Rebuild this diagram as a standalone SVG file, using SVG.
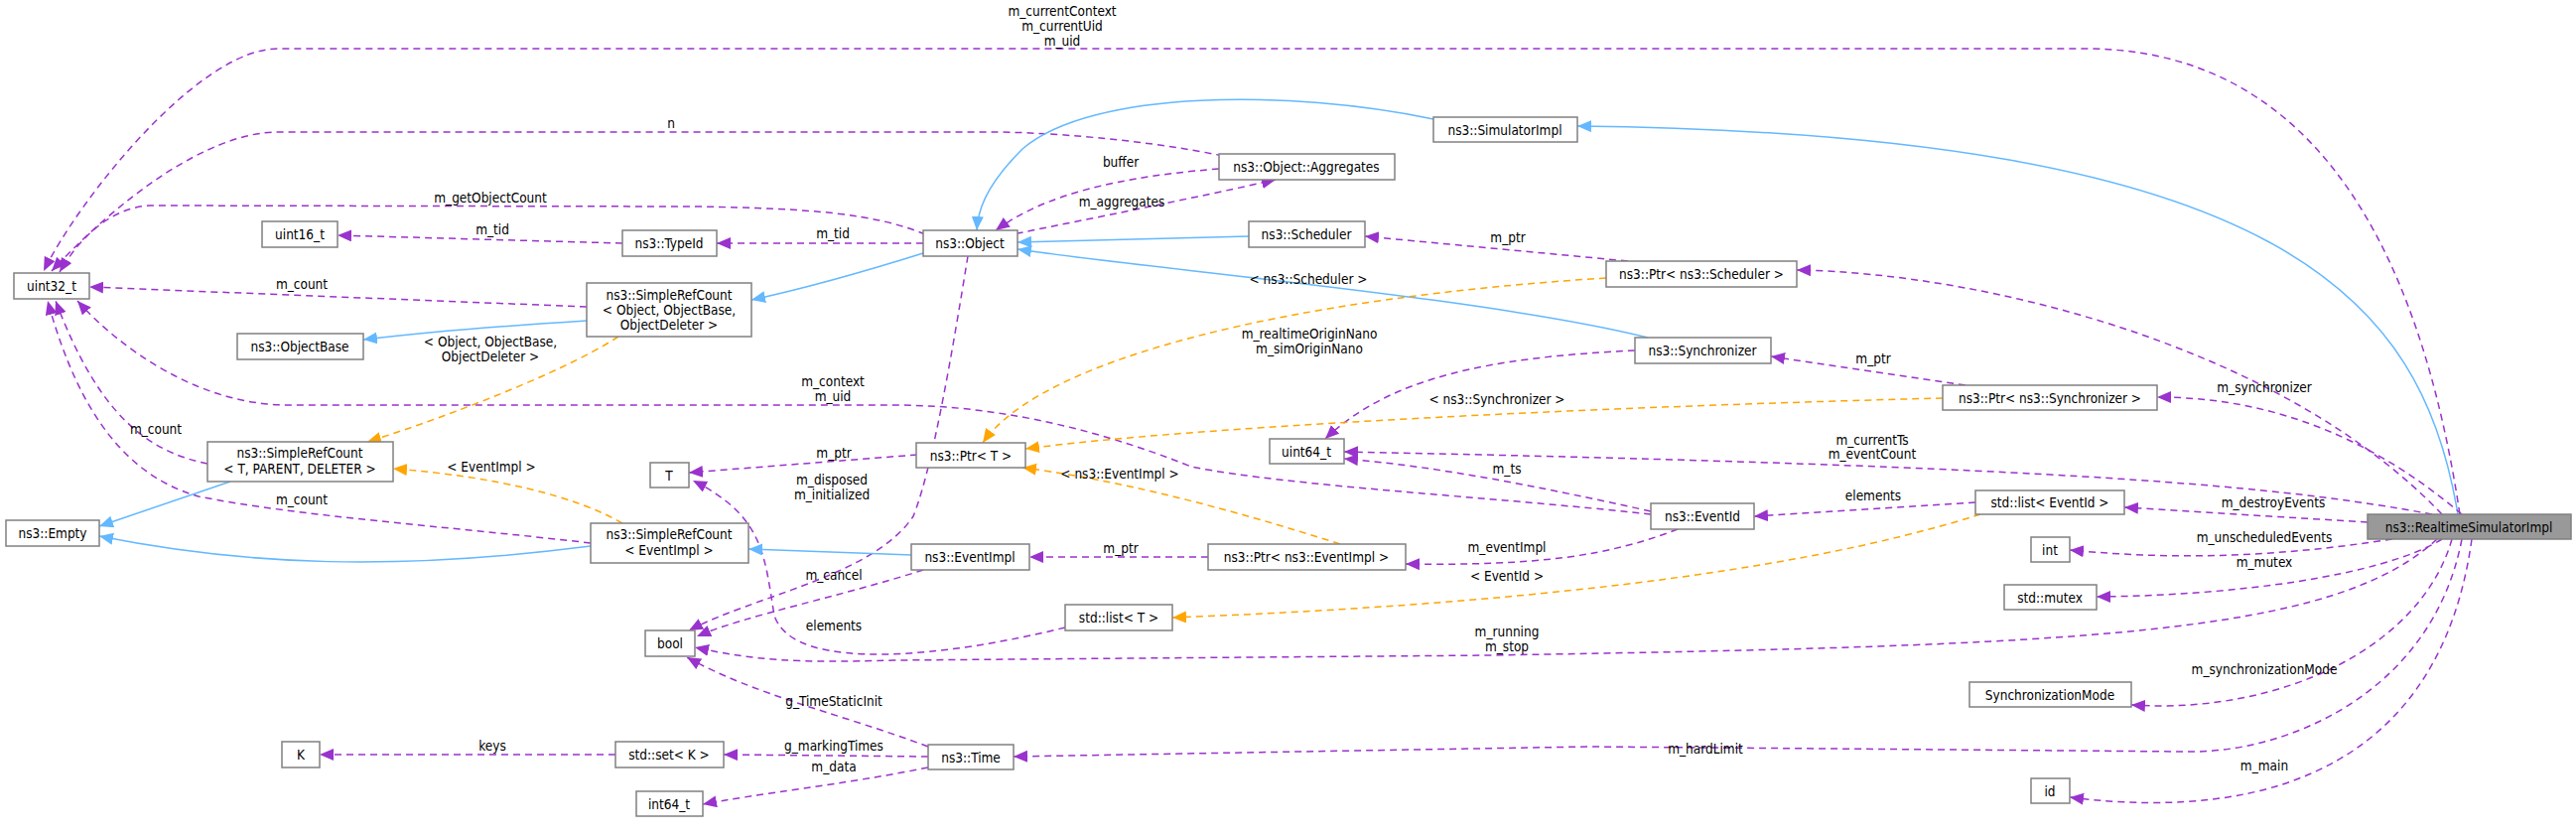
<svg xmlns="http://www.w3.org/2000/svg" width="2595" height="841" viewBox="0 0 2595 841">
<style>
text{font-family:"DejaVu Sans Condensed","DejaVu Sans",sans-serif;font-size:13.5px;fill:#000;text-anchor:middle}
.n rect{fill:#fff;stroke:#808080;stroke-width:1.5}
.n.main rect{fill:#999}
.p{fill:none;stroke:#9a32cd;stroke-width:1.5;stroke-dasharray:7,5;marker-end:url(#ap)}
.o{fill:none;stroke:#ffa500;stroke-width:1.5;stroke-dasharray:7,5;marker-end:url(#ao)}
.b{fill:none;stroke:#63b8ff;stroke-width:1.5;marker-end:url(#ab)}
</style>
<defs>
<marker id="ap" markerUnits="userSpaceOnUse" markerWidth="16" markerHeight="14" refX="14" refY="6" orient="auto"><path d="M0,0 L14,6 L0,12 z" fill="#9a32cd"/></marker>
<marker id="ao" markerUnits="userSpaceOnUse" markerWidth="16" markerHeight="14" refX="14" refY="6" orient="auto"><path d="M0,0 L14,6 L0,12 z" fill="#ffa500"/></marker>
<marker id="ab" markerUnits="userSpaceOnUse" markerWidth="16" markerHeight="14" refX="14" refY="6" orient="auto"><path d="M0,0 L14,6 L0,12 z" fill="#63b8ff"/></marker>
</defs>
<rect width="2595" height="841" fill="#fff"/>
<g id="edges">
<path class="p" d="M2478,518 C2430,200 2300,49 2100,49 L280,49 C200,49 80,200 44,273"/>
<path class="p" d="M1232,157 C1150,140 1050,133 1000,133 L280,133 C210,133 120,200 52,273"/>
<path class="p" d="M932,236 C880,215 820,210 700,208 L150,207 C110,210 80,240 60,274"/>
<path class="p" d="M627,245 L340,237"/>
<path class="p" d="M930,245 L722,245"/>
<path class="p" d="M591,309 L90,289"/>
<path class="p" d="M209,467 C150,455 100,420 56,303"/>
<path class="p" d="M595,547 C450,530 300,520 200,500 C130,480 80,420 48,303"/>
<path class="p" d="M1663,518 C1500,500 1300,490 1200,470 C1100,430 1000,408 900,408 L290,408 C200,408 120,350 78,303"/>
<path class="b" d="M232,485 L100,530"/>
<path class="b" d="M595,550 C400,575 250,570 100,540"/>
<path class="b" d="M591,323 C480,330 400,338 366,342"/>
<path class="o" d="M623,339 C560,380 420,430 370,445"/>
<path class="o" d="M627,527 C580,500 500,480 396,472"/>
<path class="b" d="M930,255 C850,280 790,295 757,302"/>
<path class="b" d="M1258,238 L1025,244"/>
<path class="b" d="M1660,340 C1500,300 1150,270 1025,251"/>
<path class="b" d="M1444,120 C1300,90 1100,90 1030,150 C990,190 985,215 984,232"/>
<path class="b" d="M2476,518 C2440,300 2300,135 1589,127"/>
<path class="p" d="M1228,170 C1100,180 1040,205 1003,232"/>
<path class="p" d="M1000,240 C1100,220 1200,200 1285,181"/>
<path class="p" d="M975,258 C960,350 940,470 920,520 C880,580 760,600 694,635"/>
<path class="p" d="M1640,263 L1375,238"/>
<path class="p" d="M2460,518 C2300,350 2000,275 1810,272"/>
<path class="o" d="M1618,280 C1300,300 1050,360 990,446"/>
<path class="p" d="M1647,353 C1500,360 1400,380 1335,442"/>
<path class="p" d="M1980,388 L1784,359"/>
<path class="p" d="M2480,518 C2400,450 2300,400 2173,400"/>
<path class="o" d="M1957,401 C1600,410 1200,430 1033,452"/>
<path class="p" d="M924,458 L694,476"/>
<path class="p" d="M1073,632 C960,660 800,680 780,620 C770,560 770,520 698,484"/>
<path class="p" d="M2455,543 C2350,640 2100,650 1500,660 L900,665 C800,668 760,665 700,652"/>
<path class="p" d="M930,574 C850,600 750,620 702,641"/>
<path class="p" d="M935,752 C850,720 760,700 692,662"/>
<path class="p" d="M1217,561 L1037,561"/>
<path class="b" d="M919,559 L754,553"/>
<path class="o" d="M1350,548 C1200,500 1100,480 1030,471"/>
<path class="p" d="M1663,515 C1550,490 1450,470 1354,462"/>
<path class="p" d="M2450,518 C2300,490 2100,470 1354,455"/>
<path class="p" d="M1690,533 C1620,560 1550,570 1416,568"/>
<path class="p" d="M1990,506 L1767,520"/>
<path class="p" d="M2385,526 L2140,511"/>
<path class="o" d="M1995,518 C1800,580 1500,610 1181,622"/>
<path class="p" d="M2410,543 C2300,560 2200,565 2085,554"/>
<path class="p" d="M2460,543 C2400,580 2250,600 2112,601"/>
<path class="p" d="M2470,543 C2440,650 2300,720 2147,710"/>
<path class="p" d="M2480,543 C2450,700 2300,760 2200,757 L1600,752 L1021,762"/>
<path class="p" d="M2490,543 C2460,760 2300,830 2085,803"/>
<path class="p" d="M935,762 L729,760"/>
<path class="p" d="M620,760 L322,760"/>
<path class="p" d="M935,773 C850,790 760,800 708,810"/>
</g>
<g id="labels">
<text x="1070" y="16">m_currentContext</text><text x="1070" y="31">m_currentUid</text><text x="1070" y="46">m_uid</text>
<text x="676" y="129">n</text>
<text x="494" y="204">m_getObjectCount</text>
<text x="496" y="236">m_tid</text>
<text x="839" y="240">m_tid</text>
<text x="304" y="291">m_count</text>
<text x="494" y="349">&lt; Object, ObjectBase,</text><text x="494" y="364">ObjectDeleter &gt;</text>
<text x="157" y="437">m_count</text>
<text x="495" y="475">&lt; EventImpl &gt;</text>
<text x="304" y="508">m_count</text>
<text x="840" y="461">m_ptr</text>
<text x="838" y="488">m_disposed</text><text x="838" y="503">m_initialized</text>
<text x="840" y="584">m_cancel</text>
<text x="840" y="635">elements</text>
<text x="840" y="711">g_TimeStaticInit</text>
<text x="496" y="756">keys</text>
<text x="840" y="756">g_markingTimes</text>
<text x="840" y="777">m_data</text>
<text x="1129" y="168">buffer</text>
<text x="1130" y="208">m_aggregates</text>
<text x="1519" y="244">m_ptr</text>
<text x="1318" y="286">&lt; ns3::Scheduler &gt;</text>
<text x="1319" y="341">m_realtimeOriginNano</text><text x="1319" y="356">m_simOriginNano</text>
<text x="1508" y="407">&lt; ns3::Synchronizer &gt;</text>
<text x="839" y="389">m_context</text><text x="839" y="404">m_uid</text>
<text x="1128" y="482">&lt; ns3::EventImpl &gt;</text>
<text x="1518" y="477">m_ts</text>
<text x="1129" y="557">m_ptr</text>
<text x="1518" y="556">m_eventImpl</text>
<text x="1518" y="585">&lt; EventId &gt;</text>
<text x="1518" y="641">m_running</text><text x="1518" y="656">m_stop</text>
<text x="1718" y="759">m_hardLimit</text>
<text x="1887" y="366">m_ptr</text>
<text x="2281" y="395">m_synchronizer</text>
<text x="1886" y="448">m_currentTs</text><text x="1886" y="462">m_eventCount</text>
<text x="1887" y="504">elements</text>
<text x="2290" y="511">m_destroyEvents</text>
<text x="2281" y="546">m_unscheduledEvents</text>
<text x="2281" y="571">m_mutex</text>
<text x="2281" y="679">m_synchronizationMode</text>
<text x="2281" y="776">m_main</text>
</g>
<g id="uint32_t" class="n"><rect x="14" y="275" width="76" height="26"/><text x="52" y="293">uint32_t</text></g>
<g id="uint16_t" class="n"><rect x="264" y="223" width="76" height="26"/><text x="302" y="241">uint16_t</text></g>
<g id="TypeId" class="n"><rect x="627" y="232" width="95" height="26"/><text x="674" y="250">ns3::TypeId</text></g>
<g id="SRC_Object" class="n"><rect x="591" y="285" width="166" height="54"/><text x="674" y="302">ns3::SimpleRefCount</text><text x="674" y="317">&lt; Object, ObjectBase,</text><text x="674" y="332">ObjectDeleter &gt;</text></g>
<g id="ObjectBase" class="n"><rect x="239" y="336" width="127" height="26"/><text x="302" y="354">ns3::ObjectBase</text></g>
<g id="SRC_T" class="n"><rect x="209" y="445" width="187" height="40"/><text x="302" y="461">ns3::SimpleRefCount</text><text x="302" y="477">&lt; T, PARENT, DELETER &gt;</text></g>
<g id="Empty" class="n"><rect x="6" y="524" width="94" height="26"/><text x="53" y="542">ns3::Empty</text></g>
<g id="SRC_EventImpl" class="n"><rect x="595" y="527" width="159" height="40"/><text x="674" y="543">ns3::SimpleRefCount</text><text x="674" y="559">&lt; EventImpl &gt;</text></g>
<g id="EventImpl" class="n"><rect x="918" y="548" width="119" height="26"/><text x="977" y="566">ns3::EventImpl</text></g>
<g id="T" class="n"><rect x="655" y="466" width="39" height="25"/><text x="674" y="484">T</text></g>
<g id="PtrT" class="n"><rect x="923" y="446" width="110" height="25"/><text x="978" y="464">ns3::Ptr&lt; T &gt;</text></g>
<g id="bool" class="n"><rect x="650" y="635" width="50" height="26"/><text x="675" y="653">bool</text></g>
<g id="K" class="n"><rect x="284" y="747" width="38" height="26"/><text x="303" y="765">K</text></g>
<g id="setK" class="n"><rect x="620" y="747" width="109" height="26"/><text x="674" y="765">std::set&lt; K &gt;</text></g>
<g id="Time" class="n"><rect x="935" y="750" width="86" height="25"/><text x="978" y="768">ns3::Time</text></g>
<g id="int64_t" class="n"><rect x="641" y="797" width="67" height="25"/><text x="674" y="815">int64_t</text></g>
<g id="SimulatorImpl" class="n"><rect x="1444" y="118" width="145" height="25"/><text x="1516" y="136">ns3::SimulatorImpl</text></g>
<g id="Aggregates" class="n"><rect x="1228" y="155" width="177" height="26"/><text x="1316" y="173">ns3::Object::Aggregates</text></g>
<g id="Object" class="n"><rect x="930" y="232" width="95" height="26"/><text x="977" y="250">ns3::Object</text></g>
<g id="Scheduler" class="n"><rect x="1258" y="223" width="117" height="26"/><text x="1316" y="241">ns3::Scheduler</text></g>
<g id="PtrScheduler" class="n"><rect x="1618" y="263" width="192" height="26"/><text x="1714" y="281">ns3::Ptr&lt; ns3::Scheduler &gt;</text></g>
<g id="Synchronizer" class="n"><rect x="1647" y="340" width="137" height="26"/><text x="1715" y="358">ns3::Synchronizer</text></g>
<g id="uint64_t" class="n"><rect x="1279" y="442" width="75" height="25"/><text x="1316" y="460">uint64_t</text></g>
<g id="EventId" class="n"><rect x="1663" y="507" width="104" height="26"/><text x="1715" y="525">ns3::EventId</text></g>
<g id="PtrEventImpl" class="n"><rect x="1217" y="548" width="199" height="26"/><text x="1316" y="566">ns3::Ptr&lt; ns3::EventImpl &gt;</text></g>
<g id="listT" class="n"><rect x="1073" y="609" width="108" height="26"/><text x="1127" y="627">std::list&lt; T &gt;</text></g>
<g id="PtrSynchronizer" class="n"><rect x="1957" y="388" width="216" height="25"/><text x="2065" y="406">ns3::Ptr&lt; ns3::Synchronizer &gt;</text></g>
<g id="listEventId" class="n"><rect x="1990" y="494" width="150" height="24"/><text x="2065" y="511">std::list&lt; EventId &gt;</text></g>
<g id="int" class="n"><rect x="2046" y="541" width="39" height="25"/><text x="2065" y="559">int</text></g>
<g id="mutex" class="n"><rect x="2019" y="589" width="93" height="25"/><text x="2065" y="607">std::mutex</text></g>
<g id="SyncMode" class="n"><rect x="1984" y="687" width="163" height="25"/><text x="2065" y="705">SynchronizationMode</text></g>
<g id="id" class="n"><rect x="2046" y="784" width="39" height="25"/><text x="2065" y="802">id</text></g>
<g id="RealtimeSimulatorImpl" class="n main"><rect x="2385" y="518" width="205" height="25"/><text x="2487" y="536">ns3::RealtimeSimulatorImpl</text></g>
</svg>
